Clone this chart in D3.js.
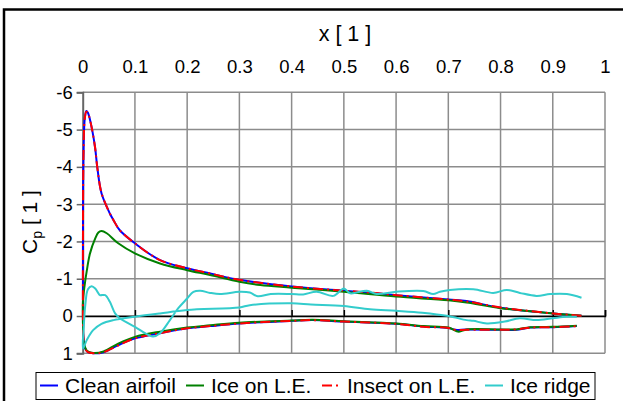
<!DOCTYPE html>
<html>
<head>
<meta charset="utf-8">
<script src="https://cdn.jsdelivr.net/npm/d3@7"></script>
<style>
  body { margin: 0; background: #fff; }
  text { font-family: Arial, "Liberation Sans", sans-serif; fill: #000; }
</style>
</head>
<body>
<div id="chart"></div>
<script>
// datos: [x, Cp]
const xTicks = [0, 0.1, 0.2, 0.3, 0.4, 0.5, 0.6, 0.7, 0.8, 0.9, 1];
const yTicks = [-6, -5, -4, -3, -2, -1, 0, 1];
const seriesNames = ["Clean airfoil", "Ice on L.E.", "Insect on L.E.", "Ice ridge"];

const cleanAirfoil = [
  [0.955,-0.01],[0.9,-0.07],[0.8,-0.22],[0.735,-0.40],[0.7,-0.44],[0.6,-0.56],[0.5,-0.68],
  [0.4,-0.79],[0.3,-0.97],[0.244,-1.14],[0.2,-1.28],[0.148,-1.50],[0.1,-1.95],[0.071,-2.3],
  [0.059,-2.57],[0.052,-2.75],[0.036,-3.29],[0.028,-3.98],[0.0235,-4.54],[0.015,-5.2],
  [0.01,-5.45],[0.007,-5.5],[0.004,-5.3],[0.0015,-4.3],[0.0005,-2.0],[0.0005,0.0],[0.001,0.5],
  [0.004,0.85],[0.01,0.97],[0.02,1.0],[0.04,0.97],[0.068,0.78],[0.1,0.6],[0.148,0.46],
  [0.2,0.33],[0.244,0.27],[0.3,0.2],[0.4,0.13],[0.44,0.11],[0.5,0.15],[0.6,0.21],[0.652,0.28],
  [0.7,0.32],[0.713,0.37],[0.735,0.36],[0.8,0.37],[0.83,0.37],[0.857,0.31],[0.9,0.3],[0.946,0.27]
];

const iceOnLE = [
  [0.955,-0.01],[0.9,-0.07],[0.8,-0.21],[0.735,-0.36],[0.7,-0.42],[0.6,-0.52],[0.5,-0.65],
  [0.4,-0.76],[0.34,-0.83],[0.3,-0.92],[0.244,-1.10],[0.2,-1.23],[0.148,-1.41],[0.1,-1.68],
  [0.068,-1.95],[0.046,-2.22],[0.036,-2.28],[0.03,-2.24],[0.024,-2.08],[0.014,-1.68],
  [0.008,-1.23],[0.003,-0.75],[0.0005,-0.4],[0.0005,0.2],[0.002,0.7],[0.008,0.93],[0.02,0.99],
  [0.04,0.95],[0.068,0.74],[0.1,0.56],[0.148,0.42],[0.2,0.31],[0.244,0.25],[0.3,0.18],
  [0.4,0.12],[0.44,0.10],[0.5,0.14],[0.6,0.20],[0.652,0.27],[0.7,0.31],[0.72,0.42],[0.735,0.36],
  [0.8,0.36],[0.83,0.36],[0.857,0.30],[0.9,0.29],[0.946,0.26]
];

const insectOnLE = [
  [0.955,-0.01],[0.9,-0.07],[0.8,-0.23],[0.735,-0.39],[0.7,-0.44],[0.6,-0.56],[0.55,-0.63],[0.5,-0.68],
  [0.4,-0.79],[0.3,-0.97],[0.244,-1.14],[0.2,-1.28],[0.148,-1.50],[0.1,-1.95],[0.071,-2.3],
  [0.059,-2.57],[0.052,-2.75],[0.036,-3.3],[0.028,-3.98],[0.0235,-4.54],[0.015,-5.2],
  [0.01,-5.44],[0.007,-5.48],[0.004,-5.3],[0.0015,-4.3],[0.0005,-2.0],[0.0005,0.0],[0.001,0.5],
  [0.004,0.85],[0.01,0.97],[0.02,1.0],[0.04,0.97],[0.068,0.79],[0.1,0.6],[0.148,0.46],
  [0.2,0.33],[0.244,0.27],[0.3,0.2],[0.4,0.13],[0.44,0.11],[0.5,0.15],[0.6,0.21],[0.652,0.29],
  [0.7,0.32],[0.713,0.37],[0.735,0.37],[0.8,0.37],[0.83,0.36],[0.857,0.31],[0.9,0.3],[0.946,0.27]
];

const iceRidge = [
  [0.955,-0.49],[0.927,-0.59],[0.895,-0.59],[0.869,-0.54],[0.837,-0.62],[0.812,-0.70],
  [0.786,-0.62],[0.748,-0.72],[0.703,-0.70],[0.684,-0.65],[0.671,-0.59],[0.652,-0.67],
  [0.6,-0.65],[0.563,-0.59],[0.544,-0.68],[0.512,-0.61],[0.5,-0.74],[0.48,-0.54],[0.448,-0.65],
  [0.422,-0.58],[0.4,-0.59],[0.36,-0.59],[0.335,-0.53],[0.32,-0.63],[0.3,-0.65],[0.263,-0.59],
  [0.244,-0.62],[0.225,-0.68],[0.212,-0.65],[0.2,-0.47],[0.183,-0.21],[0.167,0.11],[0.148,0.46],
  [0.135,0.55],[0.126,0.51],[0.1,0.29],[0.071,0.06],[0.062,-0.07],[0.052,-0.38],[0.043,-0.56],
  [0.033,-0.56],[0.03,-0.61],[0.024,-0.74],[0.017,-0.80],[0.01,-0.72],[0.005,-0.3],[0.002,0.3],
  [0.0005,0.87],[0.008,0.64],[0.02,0.38],[0.036,0.21],[0.059,0.11],[0.1,0.02],[0.148,-0.07],
  [0.2,-0.16],[0.3,-0.23],[0.32,-0.29],[0.4,-0.34],[0.437,-0.31],[0.5,-0.27],[0.55,-0.18],
  [0.6,-0.14],[0.65,-0.09],[0.7,0.0],[0.735,0.11],[0.748,0.13],[0.774,0.20],[0.808,0.15],
  [0.837,0.06],[0.869,0.11],[0.9,0.06],[0.927,0.02],[0.946,0.02]
];

const seriesData = [cleanAirfoil, iceOnLE, insectOnLE, iceRidge];
const colors = ["#0000ff", "#008000", "#ff0000", "#33cccc"];
const dashes = [null, null, "10,4,2,4", null];

const W = 623, H = 401;
const svg = d3.select("#chart").append("svg")
  .attr("width", W).attr("height", H);

// borde exterior
svg.append("rect")
  .attr("x", 4).attr("y", 9.5).attr("width", 700).attr("height", 500)
  .attr("fill", "none").attr("stroke", "#000").attr("stroke-width", 2.5);

// escalas
const x = d3.scaleLinear().domain([0, 1]).range([82.7, 605]);
const y = d3.scaleLinear().domain([-6, 1]).range([92.3, 353.3]);

// rejilla
svg.append("g").selectAll("line").data(xTicks.slice(1)).enter().append("line")
  .attr("x1", d => x(d)).attr("x2", d => x(d))
  .attr("y1", y(-6)).attr("y2", y(1))
  .attr("stroke", "#8c8c8c").attr("stroke-width", 1.5);
svg.append("g").selectAll("line").data(yTicks).enter().append("line")
  .attr("x1", x(0)).attr("x2", x(1))
  .attr("y1", d => y(d)).attr("y2", d => y(d))
  .attr("stroke", "#8c8c8c").attr("stroke-width", 1.5);

// etiquetas del eje x (arriba)
const xLab = svg.append("g")
  .attr("transform", `translate(0,${73})`)
  .call(d3.axisTop(x).tickValues(xTicks).tickSize(0).tickPadding(0).tickFormat(d => String(d)));
xLab.select(".domain").remove();
xLab.selectAll("text").style("font-size", "18.5px").style("font-family", "Arial, 'Liberation Sans', sans-serif");

// linea de cero con marcas
const zero = svg.append("g")
  .attr("transform", `translate(0,${y(0)})`)
  .call(d3.axisTop(x).tickValues(xTicks).tickSize(6).tickFormat(""));
zero.select(".domain").attr("stroke", "#000").attr("stroke-width", 1.5);
zero.selectAll(".tick line").attr("stroke", "#000").attr("stroke-width", 1.5);

// eje y
const yAx = svg.append("g")
  .attr("transform", `translate(${x(0)},0)`)
  .call(d3.axisLeft(y).tickValues(yTicks).tickSize(6).tickPadding(4).tickFormat(d => String(d)));
yAx.select(".domain").attr("stroke", "#666").attr("stroke-width", 2);
yAx.selectAll(".tick line").attr("stroke", "#666").attr("stroke-width", 1.5);
yAx.selectAll("text").style("font-size", "18.5px").style("font-family", "Arial, 'Liberation Sans', sans-serif");

// lineas
const line = d3.line()
  .x(d => x(d[0])).y(d => y(d[1]))
  .curve(d3.curveCatmullRom.alpha(0.5));

seriesData.forEach((s, i) => {
  svg.append("path")
    .datum(s)
    .attr("d", line)
    .attr("fill", "none")
    .attr("stroke", colors[i])
    .attr("stroke-width", 2)
    .attr("stroke-dasharray", dashes[i]);
});

// titulos
svg.append("text")
  .attr("x", 345).attr("y", 41)
  .style("text-anchor", "middle").style("font-size", "21.5px")
  .text("x [ 1 ]");

const yt = svg.append("text")
  .attr("transform", "translate(37,222) rotate(-90)")
  .style("text-anchor", "middle").style("font-size", "21px");
yt.append("tspan").text("C");
yt.append("tspan").attr("dy", 5).style("font-size", "14px").text("p");
yt.append("tspan").attr("dy", -5).text(" [ 1 ]");

// leyenda
const leg = svg.append("g");
leg.append("rect")
  .attr("x", 36).attr("y", 372.5).attr("width", 559).attr("height", 27)
  .attr("fill", "#fff").attr("stroke", "#000").attr("stroke-width", 1);
const legX = [40, 186, 322, 485];
seriesNames.forEach((n, i) => {
  leg.append("line")
    .attr("x1", legX[i]).attr("x2", legX[i] + 18)
    .attr("y1", 385.5).attr("y2", 385.5)
    .attr("stroke", colors[i]).attr("stroke-width", 2)
    .attr("stroke-dasharray", dashes[i]);
  leg.append("text")
    .attr("x", legX[i] + 25).attr("y", 393)
    .style("font-size", "21px")
    .text(n);
});
</script>
</body>
</html>
